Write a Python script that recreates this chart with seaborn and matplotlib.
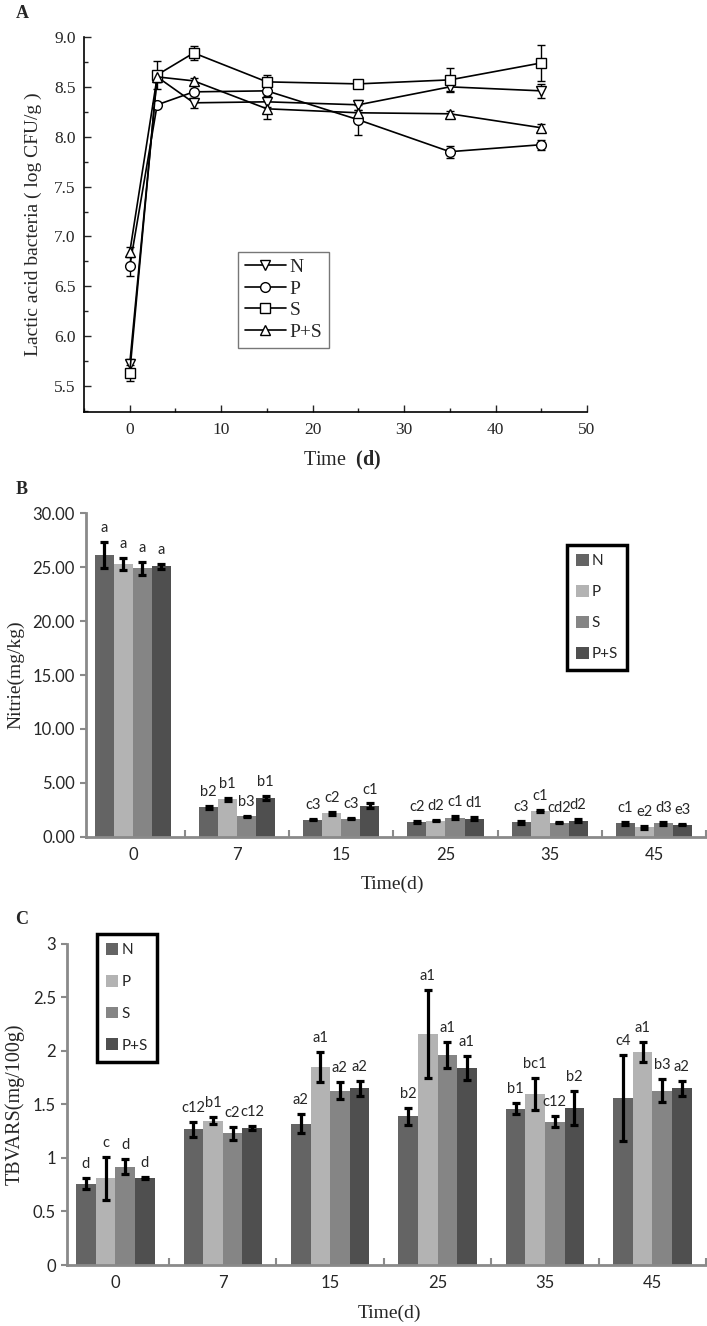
import numpy as np
import pandas as pd
import matplotlib
matplotlib.use("Agg")
import matplotlib.pyplot as plt
import seaborn as sns
from matplotlib.ticker import MultipleLocator, FixedLocator, FormatStrFormatter

# ---------------- data ----------------
groups = ["N", "P", "S", "P+S"]

# Panel A: lactic acid bacteria (log CFU/g)
days_a = [0, 3, 7, 15, 25, 35, 45]
lab_N = [5.72, 8.60, 8.34, 8.35, 8.32, 8.50, 8.46]
lab_P = [6.70, 8.32, 8.45, 8.46, 8.17, 7.85, 7.92]
lab_S = [5.63, 8.62, 8.84, 8.55, 8.53, 8.57, 8.74]
lab_PS = [6.84, 8.60, 8.56, 8.28, 8.24, 8.23, 8.09]
err_N = [0.05, 0.05, 0.05, 0.05, 0.05, 0.04, 0.07]
err_P = [0.10, 0.03, 0.03, 0.05, 0.15, 0.06, 0.05]
err_S = [0.08, 0.14, 0.07, 0.07, 0.04, 0.12, 0.18]
err_PS = [0.05, 0.05, 0.03, 0.10, 0.03, 0.03, 0.04]

# Panel B: nitrite (mg/kg)
days_b = ["0", "7", "15", "25", "35", "45"]
nit_N = [26.1, 2.75, 1.60, 1.40, 1.35, 1.25]
nit_P = [25.3, 3.50, 2.20, 1.50, 2.40, 0.90]
nit_S = [24.9, 1.90, 1.70, 1.80, 1.30, 1.25]
nit_PS = [25.05, 3.60, 2.90, 1.70, 1.50, 1.15]
nerr_N = [1.2, 0.15, 0.05, 0.08, 0.15, 0.10]
nerr_P = [0.55, 0.15, 0.15, 0.05, 0.12, 0.15]
nerr_S = [0.6, 0.05, 0.05, 0.15, 0.05, 0.15]
nerr_PS = [0.25, 0.20, 0.20, 0.15, 0.15, 0.05]
nlet_N = ["a", "b2", "c3", "c2", "c3", "c1"]
nlet_P = ["a", "b1", "c2", "d2", "c1", "e2"]
nlet_S = ["a", "b3", "c3", "c1", "cd2", "d3"]
nlet_PS = ["a", "b1", "c1", "d1", "d2", "e3"]

# Panel C: TBARS (mg/100g)
tb_N = [0.76, 1.27, 1.32, 1.39, 1.46, 1.56]
tb_P = [0.81, 1.35, 1.85, 2.16, 1.60, 1.99]
tb_S = [0.92, 1.23, 1.63, 1.96, 1.34, 1.63]
tb_PS = [0.81, 1.28, 1.65, 1.84, 1.47, 1.65]
terr_N = [0.05, 0.07, 0.09, 0.08, 0.05, 0.40]
terr_P = [0.20, 0.03, 0.14, 0.41, 0.15, 0.09]
terr_S = [0.07, 0.06, 0.08, 0.12, 0.05, 0.11]
terr_PS = [0.01, 0.02, 0.07, 0.11, 0.16, 0.07]
tlet_N = ["d", "c12", "a2", "b2", "b1", "c4"]
tlet_P = ["c", "b1", "a1", "a1", "bc1", "a1"]
tlet_S = ["d", "c2", "a2", "a1", "c12", "b3"]
tlet_PS = ["d", "c12", "a2", "a1", "b2", "a2"]

# ---------------- style ----------------
sns.set_style("ticks")
plt.rcParams["font.family"] = ["Liberation Serif", "DejaVu Sans"]
plt.rcParams["mathtext.fontset"] = "custom"
plt.rcParams["mathtext.rm"] = "Liberation Serif"
plt.rcParams["mathtext.bf"] = "Liberation Serif:bold"
SANS = ["Lato", "DejaVu Sans"]
GRAY = "#8a8a8a"
bar_colors = ["#646464", "#b3b3b3", "#858585", "#4f4f4f"]
markers = ["v", "o", "s", "^"]

fig = plt.figure(figsize=(7.07, 13.26), dpi=100)
axA = fig.add_axes([0.1188, 0.6893, 0.7115, 0.2828])
axB = fig.add_axes([0.1216, 0.3688, 0.8770, 0.2443])
axC = fig.add_axes([0.0948, 0.0460, 0.9038, 0.2421])

# ---------------- Panel A ----------------
A_vals = [lab_N, lab_P, lab_S, lab_PS]
A_errs = [err_N, err_P, err_S, err_PS]
dfA = pd.DataFrame([
    {"day": d, "val": v, "group": g}
    for g, vals in zip(groups, A_vals) for d, v in zip(days_a, vals)
])
sns.lineplot(data=dfA, x="day", y="val", hue="group", style="group",
             hue_order=groups, style_order=groups, markers=markers,
             dashes=False, palette=["black"] * 4, markersize=7,
             markerfacecolor="white", markeredgecolor="black",
             markeredgewidth=1.0, linewidth=1.2, ax=axA, zorder=3)
for vals, errs in zip(A_vals, A_errs):
    axA.errorbar(days_a, vals, yerr=errs, fmt="none", ecolor="black",
                 elinewidth=1.0, capsize=3, capthick=1.0, zorder=2)
axA.set_xlim(-5, 50)
axA.set_ylim(5.24, 9.0)
axA.xaxis.set_major_locator(MultipleLocator(10))
axA.xaxis.set_minor_locator(MultipleLocator(5))
axA.yaxis.set_major_locator(FixedLocator([5.5, 6.0, 6.5, 7.0, 7.5, 8.0, 8.5, 9.0]))
axA.yaxis.set_minor_locator(MultipleLocator(0.25))
axA.yaxis.set_major_formatter(FormatStrFormatter("%.1f"))
axA.tick_params(which="major", direction="in", length=5, width=1, labelsize=12.5)
axA.tick_params(axis="x", which="major", pad=7)
axA.tick_params(axis="y", which="major", pad=6)
axA.tick_params(which="minor", direction="in", length=3, width=1)
for s in ["left", "bottom"]:
    axA.spines[s].set_color("black")
    axA.spines[s].set_linewidth(1.2)
sns.despine(ax=axA)
axA.set_ylabel("Lactic acid bacteria ( log CFU/g )", fontsize=14)
axA.yaxis.set_label_coords(-0.084, 0.5)
axA.set_xlabel(r"Time  $\mathbf{(d)}$", fontsize=14.5)
axA.xaxis.set_label_coords(0.513, -0.098)
hA, lA = axA.get_legend_handles_labels()
for h in hA:
    h.set_markerfacecolor("white")
    h.set_markeredgecolor("black")
    h.set_color("black")
legA = axA.legend(hA, lA, loc="upper left", bbox_to_anchor=(0.306, 0.427),
                  borderaxespad=0, frameon=True, fancybox=False,
                  edgecolor="#777777", framealpha=1, fontsize=14,
                  handlelength=2.1, handletextpad=0.2, labelspacing=0.2,
                  borderpad=0.35)
legA.get_frame().set_linewidth(1.0)


# ---------------- bar panels ----------------
def bar_panel(ax, vals_list, errs_list, lets_list, lab_off):
    df = pd.DataFrame([
        {"day": d, "val": v, "group": g}
        for g, vals in zip(groups, vals_list) for d, v in zip(days_b, vals)
    ])
    sns.barplot(data=df, x="day", y="val", hue="group", order=days_b,
                hue_order=groups, palette=bar_colors, width=0.73,
                saturation=1, errorbar=None, linewidth=0, ax=ax)
    for cont, errs, lets in zip(ax.containers, errs_list, lets_list):
        xs = [b.get_x() + b.get_width() / 2 for b in cont]
        tops = [b.get_height() for b in cont]
        ax.errorbar(xs, tops, yerr=errs, fmt="none", ecolor="black",
                    elinewidth=2.3, capsize=3, capthick=2.3, zorder=4)
        for x, t, e, l in zip(xs, tops, errs, lets):
            ax.annotate(l, (x, t + e), xytext=(0, lab_off),
                        textcoords="offset points", ha="center",
                        va="bottom", fontsize=10.5, family=SANS)
    ax.set_xlim(-0.45, 5.5)
    ax.xaxis.set_minor_locator(FixedLocator(np.arange(-0.5, 6.0, 1.0)))
    ax.tick_params(axis="x", which="major", length=0, pad=7)
    ax.tick_params(axis="x", which="minor", direction="in", length=5,
                   width=1.5, color=GRAY)
    ax.tick_params(axis="y", which="major", direction="out", length=4,
                   width=1.5, color=GRAY, pad=4)
    for s in ["left", "bottom"]:
        ax.spines[s].set_color(GRAY)
        ax.spines[s].set_linewidth(2)
    sns.despine(ax=ax)


def sans_ticks(ax, size):
    for lab in ax.get_xticklabels() + ax.get_yticklabels():
        lab.set_family(SANS)
        lab.set_fontsize(size)


# Panel B
bar_panel(axB, [nit_N, nit_P, nit_S, nit_PS],
          [nerr_N, nerr_P, nerr_S, nerr_PS],
          [nlet_N, nlet_P, nlet_S, nlet_PS], 5)
axB.set_ylim(0, 30)
axB.yaxis.set_major_locator(MultipleLocator(5))
axB.yaxis.set_major_formatter(FormatStrFormatter("%.2f"))
sans_ticks(axB, 12)
axB.set_ylabel("Nitrie(mg/kg)", fontsize=14)
axB.yaxis.set_label_coords(-0.10, 0.5)
axB.set_xlabel("Time(d)", fontsize=14)
axB.xaxis.set_label_coords(0.494, -0.12)
hB, lB = axB.get_legend_handles_labels()
legB = axB.legend(hB, lB, loc="upper left", bbox_to_anchor=(0.776, 0.901),
                  borderaxespad=0, frameon=True, fancybox=False,
                  edgecolor="black", framealpha=1,
                  prop={"family": SANS, "size": 11},
                  handlelength=0.8, handleheight=0.8, handletextpad=0.2,
                  labelspacing=1.1, borderpad=0.6)
legB.get_frame().set_linewidth(2.5)

# Panel C
bar_panel(axC, [tb_N, tb_P, tb_S, tb_PS],
          [terr_N, terr_P, terr_S, terr_PS],
          [tlet_N, tlet_P, tlet_S, tlet_PS], 5)
axC.set_ylim(0, 3)
axC.yaxis.set_major_locator(MultipleLocator(0.5))
axC.yaxis.set_major_formatter(FormatStrFormatter("%g"))
sans_ticks(axC, 12)
axC.set_ylabel("TBVARS(mg/100g)", fontsize=14.5)
axC.yaxis.set_label_coords(-0.067, 0.5)
axC.set_xlabel("Time(d)", fontsize=14)
axC.xaxis.set_label_coords(0.505, -0.125)
hC, lC = axC.get_legend_handles_labels()
legC = axC.legend(hC, lC, loc="upper left", bbox_to_anchor=(0.047, 1.031),
                  borderaxespad=0, frameon=True, fancybox=False,
                  edgecolor="black", framealpha=1,
                  prop={"family": SANS, "size": 11},
                  handlelength=0.8, handleheight=0.8, handletextpad=0.2,
                  labelspacing=1.15, borderpad=0.6)
legC.get_frame().set_linewidth(2.5)

# panel letters
for lbl, (px, py) in zip(["A", "B", "C"], [(22, 13), (22, 490), (22, 920)]):
    fig.text(px / 707, 1 - py / 1326, lbl, fontsize=13, fontweight="bold",
             ha="center", va="center")

fig.savefig("out.png", dpi=100)
